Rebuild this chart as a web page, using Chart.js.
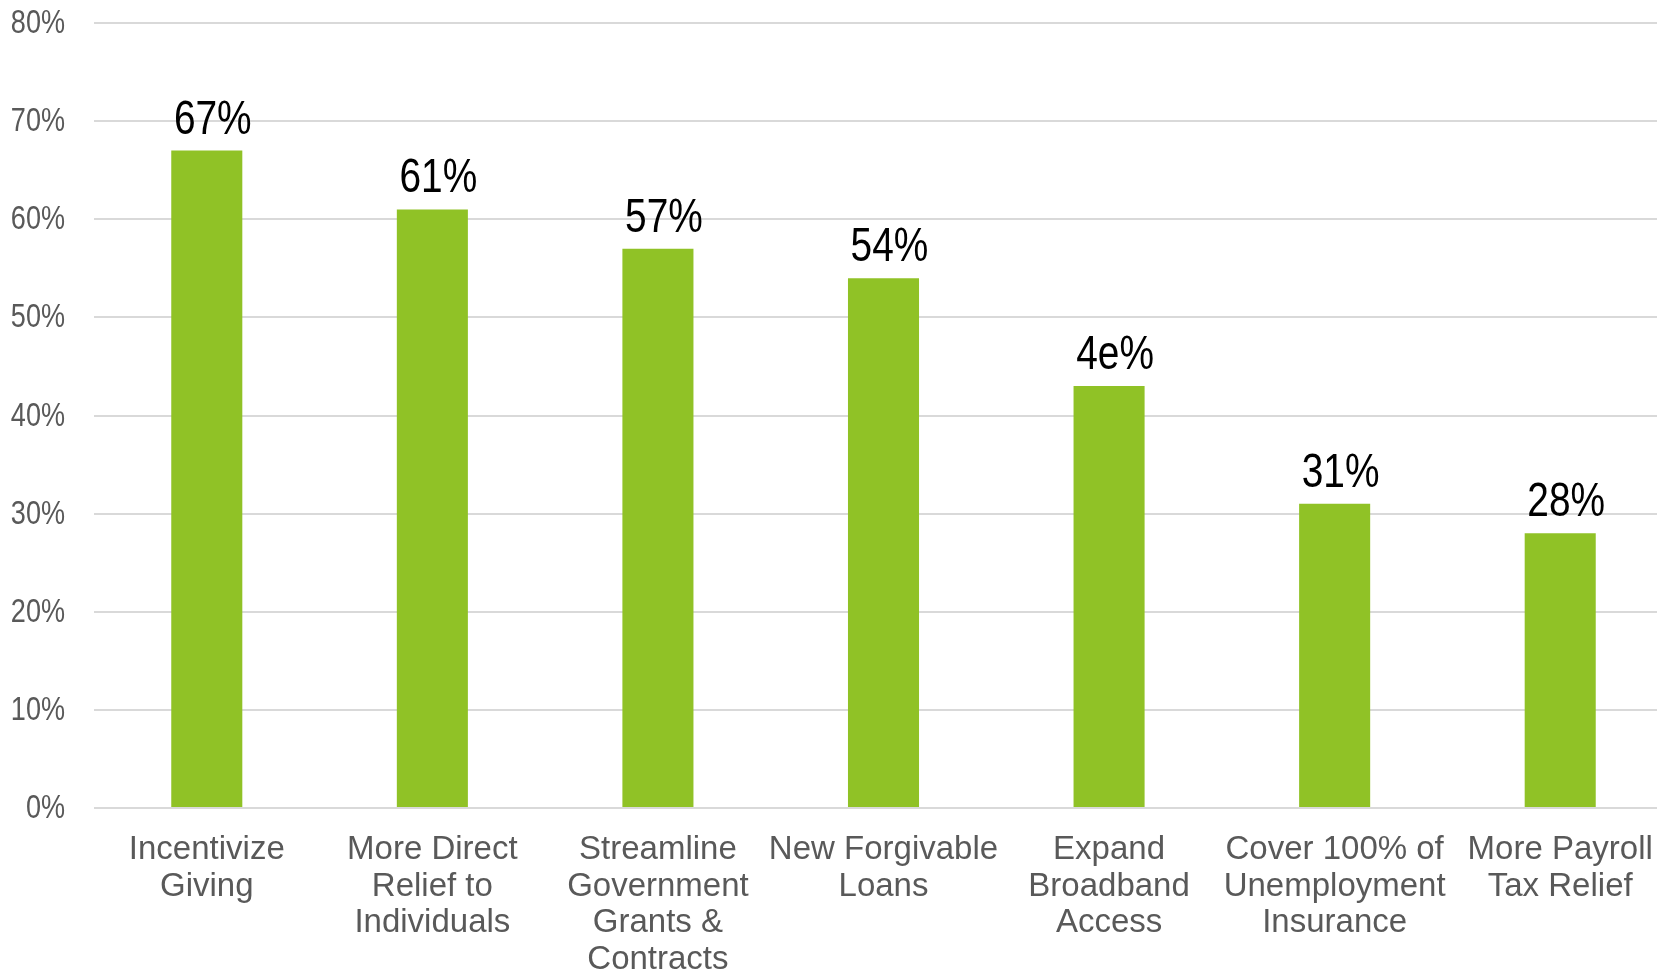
<!DOCTYPE html>
<html>
<head>
<meta charset="utf-8">
<title>Relief priorities</title>
<script src="https://cdn.jsdelivr.net/npm/chart.js@4.4.1/dist/chart.umd.min.js"></script>
<style>
  html, body { margin: 0; padding: 0; background: #ffffff; overflow: hidden; }
  #wrap { width: 1673px; height: 971px; }
</style>
</head>
<body>
<div id="wrap"><canvas id="barChart" width="1673" height="971"></canvas></div>
<script>
// Categories (wrapped the way the original slide shows them)
const categories = [
  ["Incentivize", "Giving"],
  ["More Direct", "Relief to", "Individuals"],
  ["Streamline", "Government", "Grants &", "Contracts"],
  ["New Forgivable", "Loans"],
  ["Expand", "Broadband", "Access"],
  ["Cover 100% of", "Unemployment", "Insurance"],
  ["More Payroll", "Tax Relief"]
];

// Share of respondents (%)
const values = [67, 61, 57, 54, 43, 31, 28];

// Labels printed above the bars (as they appear on the slide)
const valueLabels = ["67%", "61%", "57%", "54%", "4e%", "31%", "28%"];

// Y axis ticks
const yTicks = [0, 10, 20, 30, 40, 50, 60, 70, 80];

const barColor = "#90C226";

// The slide font is a narrow one, so squeeze the text a bit
function drawNarrow(ctx, text, x, y, squeeze) {
  ctx.save();
  ctx.translate(x, y);
  ctx.scale(squeeze, 1);
  ctx.fillText(text, 0, 0);
  ctx.restore();
}

// Value labels above the bars + the y axis percent labels
const labelPlugin = {
  id: "labels",
  afterDraw(chart) {
    const ctx = chart.ctx;
    const meta = chart.getDatasetMeta(0);
    const yScale = chart.scales.y;

    ctx.save();
    ctx.fillStyle = "#000000";
    ctx.font = "48px 'Liberation Sans', Arial, sans-serif";
    ctx.textAlign = "center";
    ctx.textBaseline = "alphabetic";
    meta.data.forEach((bar, i) => {
      drawNarrow(ctx, valueLabels[i], bar.x + 6, bar.y - 17, 0.81);
    });

    ctx.fillStyle = "#595959";
    ctx.font = "33px 'Liberation Sans', Arial, sans-serif";
    ctx.textAlign = "right";
    ctx.textBaseline = "middle";
    yTicks.forEach((v) => {
      drawNarrow(ctx, v + "%", yScale.left + 65, yScale.getPixelForValue(v) + 1, 0.82);
    });
    ctx.restore();
  }
};

const ctx = document.getElementById("barChart").getContext("2d");

new Chart(ctx, {
  type: "bar",
  data: {
    labels: categories,
    datasets: [
      {
        data: values,
        backgroundColor: barColor,
        borderWidth: 0,
        categoryPercentage: 1,
        barPercentage: 0.315,
      },
    ],
  },
  options: {
    responsive: false,
    animation: false,
    layout: {
      padding: { top: 23, left: 0, right: 0, bottom: 0 }
    },
    plugins: {
      legend: { display: false },
      tooltip: { enabled: false },
      title: { display: false }
    },
    scales: {
      x: {
        grid: { display: false },
        border: { display: false },
        ticks: {
          color: "#595959",
          font: { family: "'Liberation Sans', Arial, sans-serif", size: 33, lineHeight: 1.12 },
          padding: 15,
          maxRotation: 0,
          autoSkip: false,
        },
        afterFit: function (scale) {
          scale.height = 163;
        },
      },
      y: {
        min: 0,
        max: 80,
        afterBuildTicks: function (scale) {
          scale.ticks = yTicks.map((v) => ({ value: v }));
        },
        grid: {
          color: "#d9d9d9",
          lineWidth: 2,
          drawTicks: false,
        },
        border: { display: false },
        ticks: { display: false },
        afterFit: function (scale) {
          scale.width = 94;
        },
      },
    },
  },
  plugins: [labelPlugin],
});
</script>
</body>
</html>
